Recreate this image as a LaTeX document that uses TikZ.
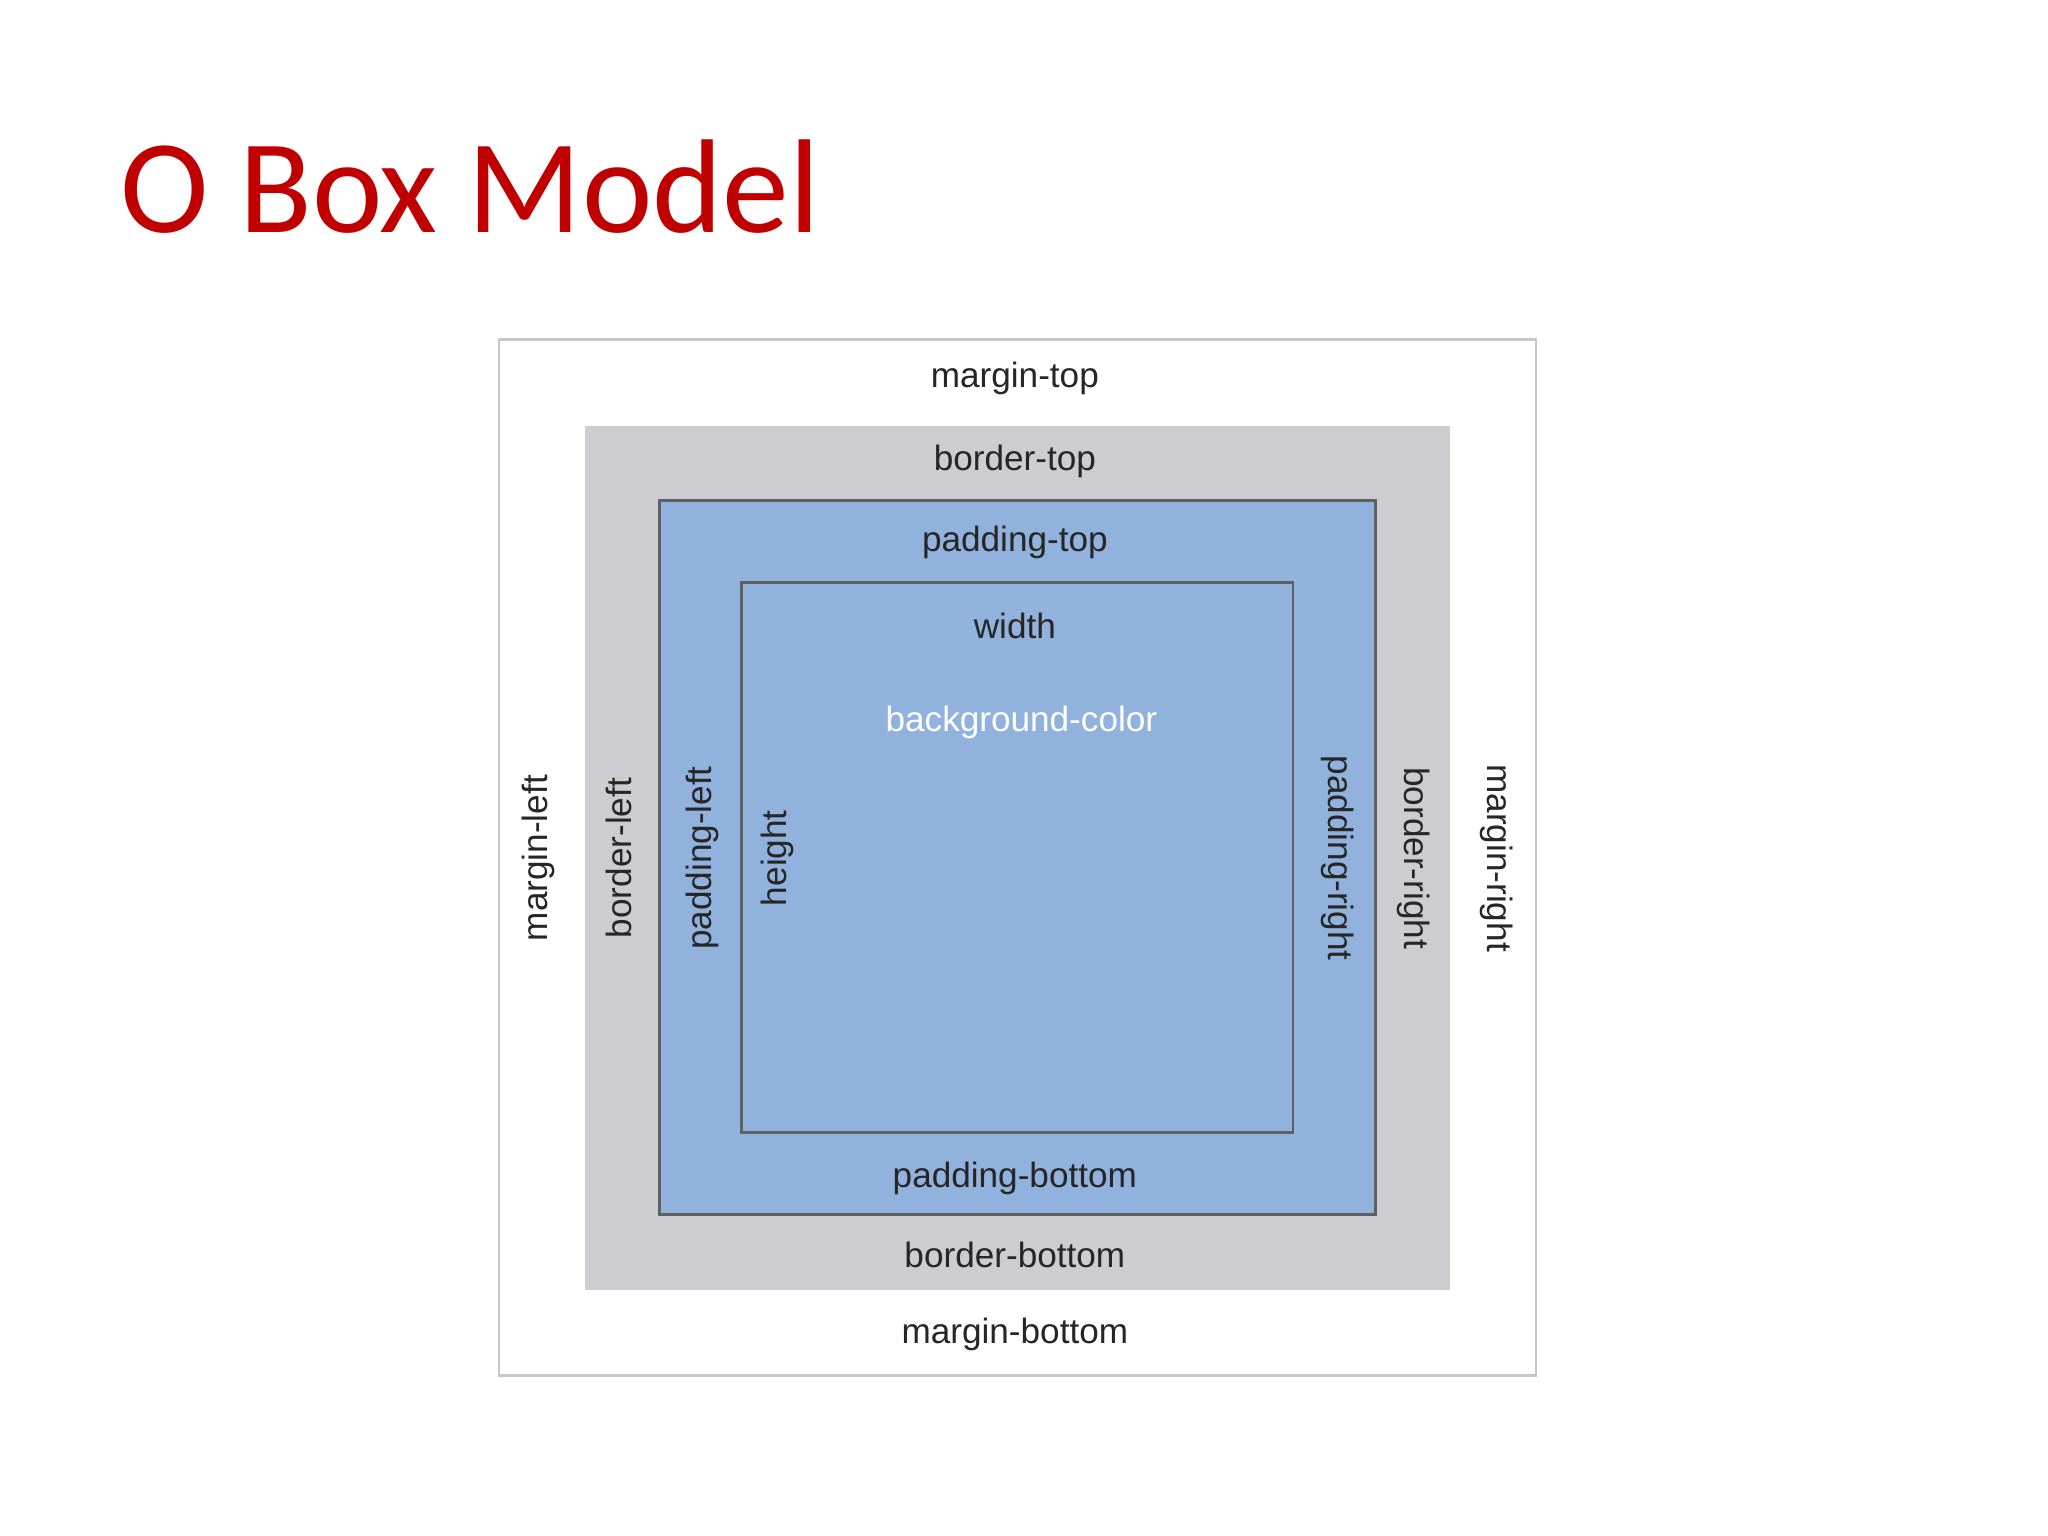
\documentclass[tikz,border=0pt]{standalone}
\usepackage{fontspec}
\setmainfont{Liberation Sans}
\newfontfamily\titlefont{Carlito}
\definecolor{ttl}{RGB}{192,0,0}
\definecolor{bordg}{RGB}{205,204,208}
\definecolor{padb}{RGB}{145,178,221}
\definecolor{edge}{RGB}{95,95,100}
\begin{document}
\begin{tikzpicture}[x=0.01306cm,y=-0.01306cm,
  lbl/.style={font=\fontsize{10}{12}\selectfont,text=black!85},
  boxline/.style={draw=edge,line width=0.8pt}]
\useasboundingbox (0,0) rectangle (1568,1176);
\node[anchor=base west,text=ttl,font=\titlefont\fontsize{38}{44}\selectfont,inner sep=0] (title) at (92,178) {O Box Model};
\draw[draw=black!22,line width=0.8pt,fill=white] (382,260) rectangle (1176,1053);
\fill[bordg] (448,326) rectangle (1110,988);
\draw[boxline,fill=padb] (505,383) rectangle (1053,930);
\draw[boxline] (568,446) rectangle (990,867);
\node[lbl] (mt) at (777,290) {margin-top};
\node[lbl] (bt) at (777,353) {border-top};
\node[lbl] (pt) at (777,415) {padding-top};
\node[lbl] (w) at (777,479) {width};
\node[lbl,text=white] (bg) at (782,553) {background-color};
\node[lbl] (pb) at (777,902) {padding-bottom};
\node[lbl] (bb) at (777,961) {border-bottom};
\node[lbl] (mb) at (777,1022) {margin-bottom};
\node[lbl,rotate=90] (ml) at (412,657) {margin-left};
\node[lbl,rotate=90] (bl) at (474,657) {border-left};
\node[lbl,rotate=90] (pl) at (538,657) {padding-left};
\node[lbl,rotate=90] (h) at (595,657) {height};
\node[lbl,rotate=-90] (pr) at (1024,657) {padding-right};
\node[lbl,rotate=-90] (br) at (1082,657) {border-right};
\node[lbl,rotate=-90] (mr) at (1146,657) {margin-right};
\end{tikzpicture}
\end{document}
